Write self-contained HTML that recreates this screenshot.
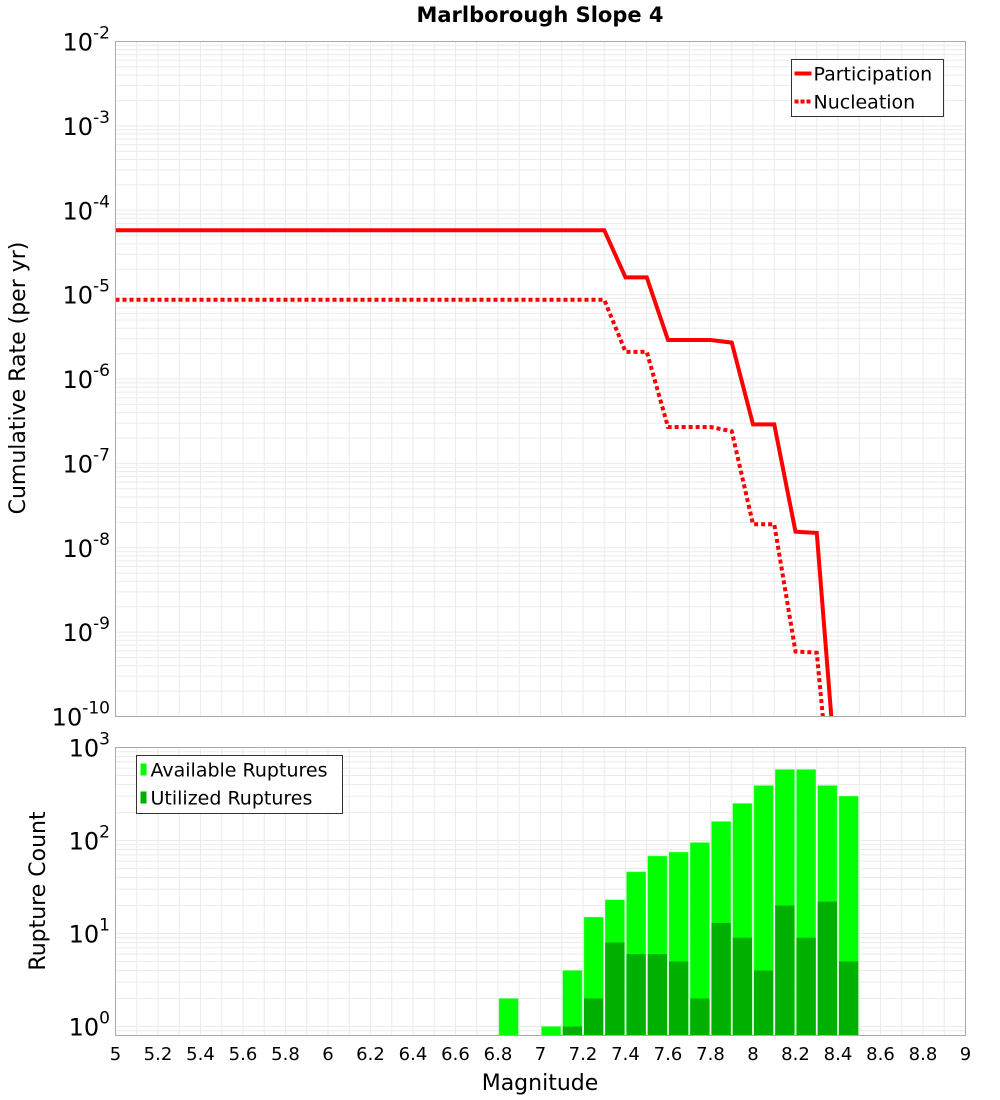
<!DOCTYPE html>
<html><head><meta charset="utf-8"><style>
body{margin:0;background:#fff}
svg{display:block;font-family:"DejaVu Sans","Liberation Sans",sans-serif}
</style></head><body>
<svg id="c" width="1000" height="1100" viewBox="0 0 1000 1100">
<text x="540" y="22" font-size="21" font-weight="bold" text-anchor="middle">Marlborough Slope 4</text>
<g id="gtop"></g><g id="gbot"></g>
<text transform="translate(25,378) rotate(-90)" font-size="22" text-anchor="middle">Cumulative Rate (per yr)</text>
<text transform="translate(45,891) rotate(-90)" font-size="22" text-anchor="middle">Rupture Count</text>
<text x="540" y="1090" font-size="22" text-anchor="middle">Magnitude</text>
</svg>
<script>
const partMags=[5,7.3,7.4,7.5,7.6,7.8,7.9,8.0,8.1,8.2,8.3,8.4];
const partVals=[5.8e-5,5.8e-5,1.6e-5,1.6e-5,2.9e-6,2.9e-6,2.7e-6,2.9e-7,2.9e-7,1.55e-8,1.5e-8,1e-11];
const nuclMags=[5,7.3,7.4,7.5,7.6,7.8,7.9,8.0,8.1,8.2,8.3,8.4];
const nuclVals=[8.7e-6,8.7e-6,2.1e-6,2.1e-6,2.7e-7,2.7e-7,2.4e-7,1.9e-8,1.9e-8,5.9e-10,5.7e-10,1.3e-12];
const barMags=[6.85,6.95,7.05,7.15,7.25,7.35,7.45,7.55,7.65,7.75,7.85,7.95,8.05,8.15,8.25,8.35,8.45];
const availVals=[2,0,1,4,15,23,46,68,75,95,160,250,390,580,580,390,300];
const usedVals=[0,0,0,1,2,8,6,6,5,2,13,9,4,20,9,22,5];
const xTicks=["5","5.2","5.4","5.6","5.8","6","6.2","6.4","6.6","6.8","7","7.2","7.4","7.6","7.8","8","8.2","8.4","8.6","8.8","9"];
const topExps=[-2,-3,-4,-5,-6,-7,-8,-9,-10];
const botExps=[3,2,1,0];

const NS="http://www.w3.org/2000/svg";
const L=115.5,R=965.5,T1=41.5,B1=716.5,T2=747.5,B2=1035.5;
const X=m=>L+(m-5)/4*(R-L);
const Y1=v=>T1+(-2-Math.log10(v))/8*(B1-T1);
const bMin=Math.log10(0.8),bMax=3;
const Y2=v=>T2+(bMax-Math.log10(v))/(bMax-bMin)*(B2-T2);
function mk(p,t,a){const e=document.createElementNS(NS,t);for(const k in a)e.setAttribute(k,a[k]);p.appendChild(e);return e;}
const gTop=document.getElementById('gtop'),gBot=document.getElementById('gbot');

function grid(g,T,B,Yf,lo,hi){
  for(let m=5;m<=9.001;m+=0.1){const x=X(m);
    const l=mk(g,'line',{x1:x,x2:x,y1:T,y2:B,stroke:'#ebebeb','stroke-width':1});
    
    }
  for(let e=lo;e<hi;e++)for(let k=1;k<10;k++){const v=k*Math.pow(10,e);const y=Yf(v);if(y<T-0.5||y>B+0.5)continue;
    const l=mk(g,'line',{x1:L,x2:R,y1:y,y2:y,stroke:'#ebebeb','stroke-width':1});
    
    }
}
grid(gTop,T1,B1,Y1,-10,-2);
grid(gBot,T2,B2,Y2,-1,3);

const cp=mk(gTop,'clipPath',{id:'cp1'});mk(cp,'rect',{x:L,y:T1,width:R-L,height:B1-T1});
function line(ms,vs,dash,name){
  const pl=mk(gTop,'polyline',{points:ms.map((m,i)=>X(m)+','+Y1(vs[i])).join(' '),fill:'none',stroke:'#ff0000','stroke-width':4,'clip-path':'url(#cp1)'});
  if(dash)pl.setAttribute('stroke-dasharray','4,3');
  
  
}
line(partMags,partVals,false,'participation-line');
line(nuclMags,nuclVals,true,'nucleation-line');

const bw=(X(0.1)-X(0))-2;
barMags.forEach((m,i)=>{
  if(availVals[i]>0){const y=Y2(availVals[i]);
    const r=mk(gBot,'rect',{x:X(m)-bw/2,y:y,width:bw,height:B2-y,fill:'#00ff00',stroke:'#66ff66','stroke-width':0.5});
    
    }
  if(usedVals[i]>0){const y=Y2(usedVals[i]);
    const r=mk(gBot,'rect',{x:X(m)-bw/2,y:y,width:bw,height:B2-y,fill:'#00b000'});
    
    }
});

[[T1,B1,'top-plot-frame'],[T2,B2,'bottom-plot-frame']].forEach(f=>{
  const r=mk(document.getElementById('c'),'rect',{x:L,y:f[0],width:R-L,height:f[1]-f[0],fill:'none',stroke:'#aaaaaa','stroke-width':1});
  
  
});

function ylab(g,e,y,name){
  const t=mk(g,'text',{x:110,y:y+9,'font-size':24,'text-anchor':'end'});
  
  
  t.appendChild(document.createTextNode('10'));
  const s=mk(t,'tspan',{dy:-12,'font-size':17});s.textContent=e;
}
topExps.forEach(e=>ylab(gTop,e,Y1(Math.pow(10,e)),'top-y-tick-label'));
botExps.forEach(e=>ylab(gBot,e,Y2(Math.pow(10,e)),'bottom-y-tick-label'));

xTicks.forEach(s=>{
  const t=mk(gBot,'text',{x:X(parseFloat(s)),y:1060,'font-size':18,'text-anchor':'middle'});
  t.textContent=s;
  
  
});

function legend(g,x,y,w,h,items,name){
  const lg=mk(g,'g',{});
  
  
  mk(lg,'rect',{x:x,y:y,width:w,height:h,fill:'#fff',stroke:'#333','stroke-width':1});
  items.forEach((it,i)=>{
    const yy=y+14+i*28;
    if(it.type==='line'){const l=mk(lg,'line',{x1:x+3,x2:x+20,y1:yy,y2:yy,stroke:'#ff0000','stroke-width':4});if(it.dash)l.setAttribute('stroke-dasharray','4,2');}
    else mk(lg,'rect',{x:x+4,y:yy-6,width:6,height:12,fill:it.color});
    const t=mk(lg,'text',{x:x+(it.type==='line'?22:14),y:yy+7,'font-size':19});t.textContent=it.label;
    
    
  });
}
legend(gTop,791.5,59.5,152,57,[{type:'line',label:'Participation'},{type:'line',dash:true,label:'Nucleation'}],'top-legend');
legend(gBot,136.5,755.5,206,58,[{type:'rect',color:'#00ff00',label:'Available Ruptures'},{type:'rect',color:'#00b000',label:'Utilized Ruptures'}],'bottom-legend');
</script>
</body></html>
